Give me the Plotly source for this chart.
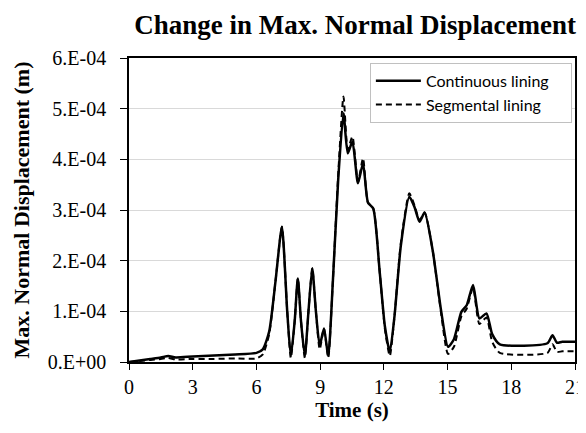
import plotly.graph_objects as go

# Time (s)
time_s = [0.0, 0.5, 1.0, 1.5, 1.85, 2.2, 3.0, 4.0, 5.0, 6.0, 6.3, 6.6, 6.9, 7.2, 7.45, 7.62,
          7.8, 7.95, 8.1, 8.28, 8.45, 8.63, 8.8, 8.98, 9.18, 9.38, 9.6, 9.85, 10.1, 10.3,
          10.52, 10.78, 11.02, 11.25, 11.5, 11.8, 12.05, 12.28, 12.5, 12.8, 13.2, 13.45,
          13.68, 13.92, 14.3, 14.7, 15.02, 15.3, 15.65, 15.9, 16.2, 16.5, 16.83, 17.1,
          17.46, 19.7, 19.94, 20.15, 20.4, 21.0]

# Max. normal displacement (m), continuous lining
continuous = [0.0, 0.03, 0.06, 0.09, 0.12, 0.09, 0.11, 0.13, 0.15, 0.18, 0.25, 0.6, 1.6, 2.67,
              1.0, 0.12, 0.8, 1.65, 0.8, 0.12, 1.0, 1.85, 1.0, 0.33, 0.66, 0.12, 1.6, 3.6,
              4.91, 4.12, 4.35, 3.53, 3.92, 3.15, 3.03, 1.8, 0.7, 0.2, 0.9, 2.3, 3.26, 3.05,
              2.77, 2.95, 2.2, 1.0, 0.3, 0.45, 0.99, 1.12, 1.52, 0.86, 0.96, 0.55, 0.35, 0.37,
              0.53, 0.38, 0.40, 0.40]
continuous = [v * 1e-4 for v in continuous]

# Max. normal displacement (m), segmental lining
segmental = [0.0, 0.02, 0.04, 0.06, 0.08, 0.05, 0.06, 0.06, 0.07, 0.07, 0.15, 0.55, 1.6, 2.67,
             1.0, 0.08, 0.8, 1.65, 0.8, 0.08, 1.0, 1.85, 1.0, 0.25, 0.66, 0.08, 1.6, 3.7,
             5.24, 4.2, 4.45, 3.55, 4.02, 3.15, 3.03, 1.8, 0.65, 0.12, 0.9, 2.35, 3.33, 3.08,
             2.8, 2.95, 2.2, 0.95, 0.16, 0.3, 0.9, 1.05, 1.47, 0.75, 0.88, 0.4, 0.18, 0.18,
             0.35, 0.2, 0.21, 0.21]
segmental = [v * 1e-4 for v in segmental]

x_ticks = [0, 3, 6, 9, 12, 15, 18, 21]
y_tickvals = [0, 1e-4, 2e-4, 3e-4, 4e-4, 5e-4, 6e-4]
y_ticktext = ["0.E+00", "1.E-04", "2.E-04", "3.E-04", "4.E-04", "5.E-04", "6.E-04"]

serif = "Liberation Serif, Times New Roman, serif"
pad = "\u00a0" * 4

fig = go.Figure()
fig.add_trace(go.Scatter(x=time_s, y=continuous, mode="lines", name="Continuous lining" + pad,
                         line=dict(color="black", width=2.5, shape="spline", smoothing=0.6)))
fig.add_trace(go.Scatter(x=time_s, y=segmental, mode="lines", name="Segmental lining" + pad,
                         line=dict(color="black", width=2, dash="6px,4px", shape="spline", smoothing=0.6)))

# page body has an 8px margin on every side, so the figure is 16px smaller than the window
fig.update_layout(
    width=578, height=417,
    margin=dict(l=121, r=11, t=50, b=63, autoexpand=False),
    paper_bgcolor="white", plot_bgcolor="white",
    title=dict(text="<b>Change in Max. Normal Displacement</b>", x=0.507, xref="paper",
               xanchor="center", y=1 - 17 / 417, yref="container", yanchor="middle",
               font=dict(family=serif, size=27, color="black")),
    legend=dict(x=0.993, y=0.984, xanchor="right", yanchor="top",
                bgcolor="white", bordercolor="#c0c0c0", borderwidth=1,
                font=dict(family="Lato, Open Sans, sans-serif", size=16, color="black"),
                tracegroupgap=0, itemwidth=45),
    showlegend=True,
)
fig.update_xaxes(range=[0, 21], tickvals=x_ticks, ticks="outside", ticklen=6,
                 tickcolor="black", showline=True, linecolor="black", linewidth=1.5,
                 mirror=True, showgrid=False, zeroline=False, automargin=False,
                 ticklabeloverflow="allow",
                 tickfont=dict(family=serif, size=20, color="black"),
                 title=dict(text="<b>Time (s)</b>", font=dict(family=serif, size=21, color="black"),
                            standoff=4))
fig.update_yaxes(range=[0, 6e-4], tickvals=y_tickvals, ticktext=y_ticktext, ticks="outside",
                 ticklen=7, tickcolor="black", showline=True, linecolor="black", linewidth=1.5,
                 mirror=True, showgrid=True, gridcolor="#d9d9d9", gridwidth=1, zeroline=False,
                 automargin=False, ticklabelstandoff=10,
                 tickfont=dict(family=serif, size=20, color="black"),
                 title=dict(text="<b>Max. Normal Displacement (m)</b>",
                            font=dict(family=serif, size=22, color="black"), standoff=12))

fig.write_html("out.html")
